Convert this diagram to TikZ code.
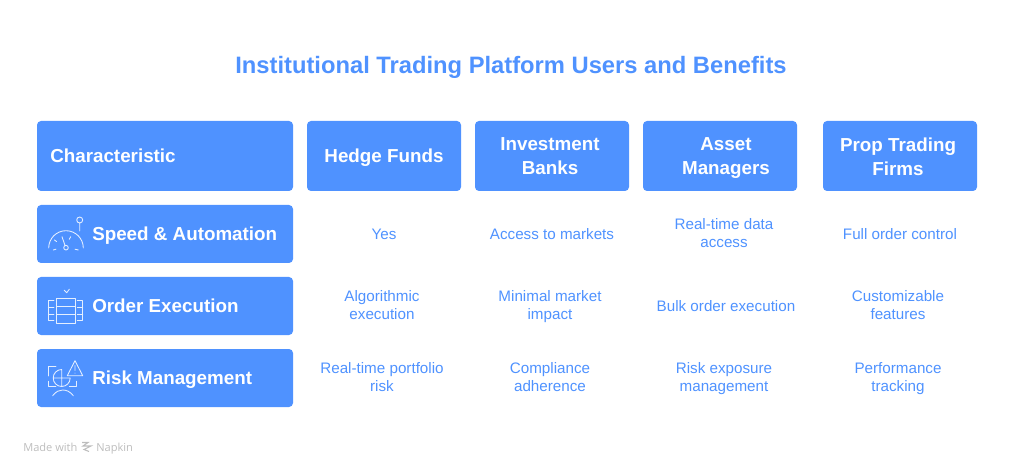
\documentclass[tikz,border=0pt]{standalone}
\usepackage{fontspec}
\setmainfont{Liberation Sans}
\newfontfamily\footfont{Open Sans}
\definecolor{napblue}{HTML}{4F92FF}
\definecolor{napgray}{HTML}{BDBDBD}
\tikzset{
bluebox/.style={fill=napblue,rounded corners=3pt,inner sep=0pt},
headtext/.style={text=white,font=\fontsize{14.1}{18}\selectfont\bfseries,align=center,inner sep=0pt,yshift=-1.5pt,execute at begin node=\strut,execute at end node=\strut},
headtwo/.style={headtext,yshift=-1.5pt},
cell/.style={text=napblue,font=\fontsize{11.4}{13.5}\selectfont,align=center,inner sep=0pt,yshift=-1.2pt,execute at begin node=\strut,execute at end node=\strut},
rowtext/.style={headtext,anchor=west},
icon/.style={draw=white!85!napblue,line width=0.65pt,line cap=round,line join=round},
footer/.style={text=napgray,font=\footfont\fontsize{8.3}{10}\selectfont,anchor=base west,inner sep=0pt},
}
\begin{document}
\begin{tikzpicture}[x=0.75pt,y=-0.75pt]
\useasboundingbox (0,0) rectangle (1022,474);
\node[text=napblue,font=\fontsize{17.8}{22}\selectfont\bfseries] (title) at (511,67) {Institutional Trading Platform Users and Benefits};

\node[bluebox,minimum width=192pt,minimum height=52.5pt] (charbox) at (165,156) {};
\node[bluebox,minimum width=115.5pt,minimum height=52.5pt] (hedgebox) at (384,156) {};
\node[bluebox,minimum width=115.5pt,minimum height=52.5pt] (bankbox) at (552,156) {};
\node[bluebox,minimum width=115.5pt,minimum height=52.5pt] (assetbox) at (720,156) {};
\node[bluebox,minimum width=115.5pt,minimum height=52.5pt] (propbox) at (900,156) {};
\node[rowtext] (chartext) at (50,156) {Characteristic};
\node[headtext] (hedge) at (384,156) {Hedge Funds};
\node[headtwo] (banks) at (550,156) {Investment\\Banks};
\node[headtwo] (asset) at (726,156) {Asset\\Managers};
\node[headtwo] (prop) at (898,156) {Prop Trading\\Firms};

\node[bluebox,minimum width=192pt,minimum height=43.5pt] (speedbox) at (165,234) {};
\node[bluebox,minimum width=192pt,minimum height=43.5pt] (orderbox) at (165,306) {};
\node[bluebox,minimum width=192pt,minimum height=43.5pt] (riskbox) at (165,378) {};
\node[rowtext] (speed) at (92,234) {Speed \& Automation};
\node[rowtext] (order) at (92,306) {Order Execution};
\node[rowtext] (risk) at (92,378) {Risk Management};

\node[cell] (a1) at (384,234) {Yes};
\node[cell] (b1) at (552,234) {Access to markets};
\node[cell] (c1) at (724,234) {Real-time data\\access};
\node[cell] (d1) at (900,234) {Full order control};

\node[cell] (a2) at (382,306) {Algorithmic\\execution};
\node[cell] (b2) at (550,306) {Minimal market\\impact};
\node[cell] (c2) at (726,306) {Bulk order execution};
\node[cell] (d2) at (898,306) {Customizable\\features};

\node[cell] (a3) at (382,378) {Real-time portfolio\\risk};
\node[cell] (b3) at (550,378) {Compliance\\adherence};
\node[cell] (c3) at (724,378) {Risk exposure\\management};
\node[cell] (d3) at (898,378) {Performance\\tracking};

\draw[icon] (48.7,248) arc (180:360:17.3);
\draw[icon] (66,247.7) circle (2.3) (65,245.5)--(62,236.7);
\draw[icon] (79.7,220) circle (3) (79.7,223)--(79.7,231);
\draw[icon] (53.3,250)--(56,249.2) (54.5,240)--(56.5,241.5) (70.7,236.7)--(69.3,239.3) (75,249.2)--(78.3,250);

\draw[icon] (56.7,298) rectangle (75,323) (56.7,306)--(75,306) (56.7,314.3)--(75,314.3);
\draw[icon] (54,300.3)--(48.3,300.3)--(48.3,320.3)--(54,320.3) (48.3,307)--(54,307) (48.3,314)--(54,314);
\draw[icon] (77.3,300.3)--(82.7,300.3)--(82.7,320.3)--(77.3,320.3) (77.3,307)--(82.7,307) (77.3,314)--(82.7,314);
\draw[icon] (64.3,290.3)--(66.7,292.7)--(69.3,289.3);

\draw[icon] (56,366.7)--(48.3,366.7)--(48.3,376) (48.3,381.3)--(48.3,386.7)--(56,386.7) (69.3,386.7)--(76.7,386.7)--(76.7,381.3);
\draw[icon] (61.7,369.5) arc (-90:-360:8.5) (61.7,369.5)--(61.7,386) (53.2,378)--(70.2,378);
\draw[icon] (75,360.7)--(82.7,375.7)--(67.3,375.7)--cycle (75,365.5)--(75,370.5) (75,373)--(75,373.2);
\draw[icon] (52.7,395.7) .. controls (56,391.5) and (59,390) .. (62.7,390) .. controls (66.5,390) and (70,391.5) .. (73.3,395.7);

\node[footer] (made) at (23,451) {Made with};
\draw[napgray,line width=0.8pt] (82,442.5)--(88,442.5)--(83,446)--(91,446)--(84,449.5)--(89,451.5);
\node[footer] (napkin) at (96,451) {Napkin};
\end{tikzpicture}
\end{document}
